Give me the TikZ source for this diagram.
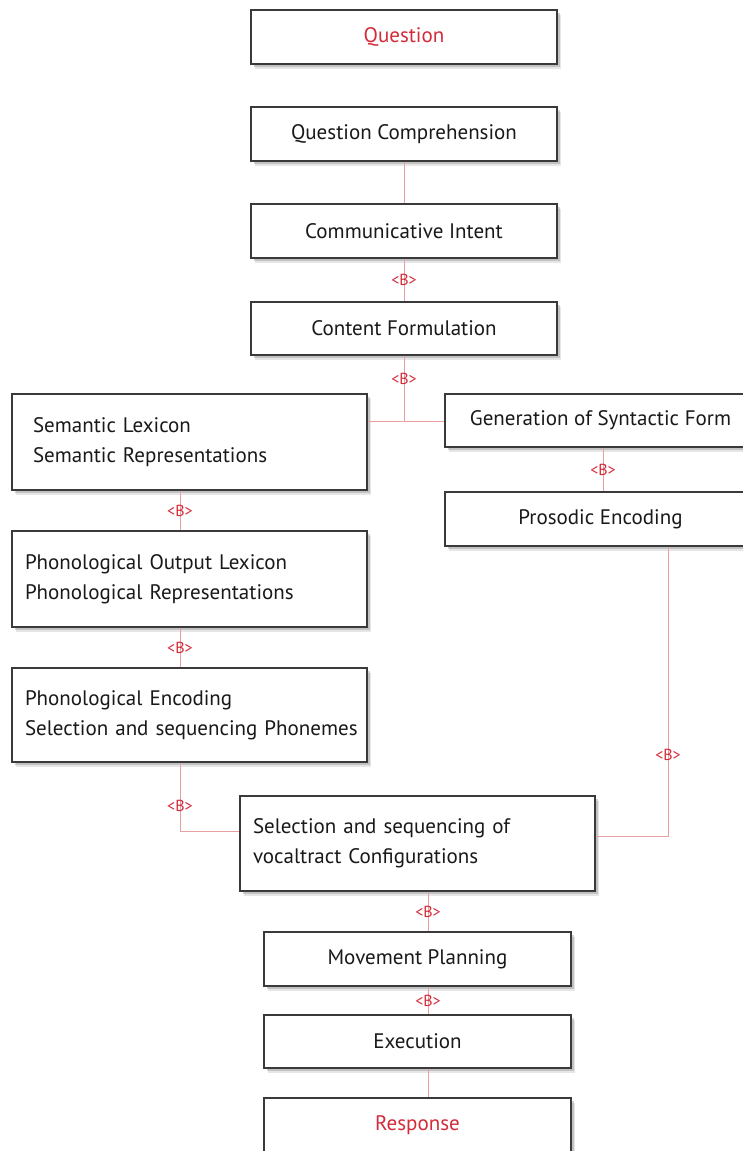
\documentclass[tikz,border=0pt]{standalone}
\usepackage{fontspec}
\setmainfont{PT Sans}
\usetikzlibrary{shadows}
\definecolor{linkred}{HTML}{E8A0A0}
\definecolor{textred}{HTML}{D42B3A}
\definecolor{boxgray}{HTML}{3A3A3A}
\tikzset{
  box/.style={draw=boxgray, line width=1.2pt, fill=white, inner sep=0pt,
    minimum height=54pt, text=black!90, font=\fontsize{21}{30}\selectfont,
    drop shadow={shadow xshift=4pt, shadow yshift=-5pt, opacity=0.2},
    drop shadow={shadow xshift=2.5pt, shadow yshift=-3pt, opacity=0.35}},
  wordbox/.style={box, text width=#1, align=left, inner xsep=13pt, minimum height=95pt},
  link/.style={draw=linkred, line width=0.8pt},
  tag/.style={text=textred, inner sep=0pt, font=\fontsize{16}{16}\selectfont}
}
\begin{document}
\begin{tikzpicture}[x=1pt,y=-1pt]
    \useasboundingbox (0,0) rectangle (742,1151);
    % top column
    \node[box, minimum width=306pt, text=textred] (quest) at (404,37) {Question};
    \node[box, minimum width=306pt] (qcomp) at (404,134) {Question Comprehension};
    \node[box, minimum width=306pt] (intent) at (404,231) {Communicative Intent};
    \node[box, minimum width=306pt, minimum height=53pt] (content) at (404,328.5) {Content Formulation};
    % left column
    \node[wordbox=313pt, inner xsep=21pt, minimum height=96pt] (semlex) at (189.5,442) {Semantic Lexicon\\Semantic Representations};
    \node[wordbox=329pt, minimum height=96pt] (phonlex) at (189.5,579) {Phonological Output Lexicon\\Phonological Representations};
    \node[wordbox=329pt, minimum height=94pt] (phonenc) at (189.5,715) {Phonological Encoding\\\mbox{Selection and sequencing Phonemes}};
    % right column
    \node[box, minimum width=311pt, minimum height=53pt] (syntax) at (600.5,420.5) {Generation of Syntactic Form};
    \node[box, minimum width=311pt] (prosody) at (600.5,519) {Prosodic Encoding};
    % bottom column
    \node[wordbox=329pt] (vocal) at (417.5,843.5) {Selection and sequencing of\\vocaltract Configurations};
    \node[box, minimum width=307pt] (plan) at (417.5,959) {Movement Planning};
    \node[box, minimum width=307pt, minimum height=53pt] (exec) at (417.5,1041.5) {Execution};
    \node[box, minimum width=307pt, text=textred] (resp) at (417.5,1125) {Response};
    % connectors
    \coordinate (split) at (404,421);
    \draw[link] (qcomp) -- (intent);
    \draw[link] (intent) -- node[tag]{<B>} (content);
    \draw[link] (content) -- node[tag, pos=0.36]{<B>} (split);
    \draw[link] (semlex.east |- split) -- (syntax.west |- split);
    \draw[link] ([xshift=2.5pt]syntax.south) -- node[tag]{<B>} ([xshift=2.5pt]prosody.north);
    \draw[link] ([xshift=-9.5pt]semlex.south) -- node[tag]{<B>} ([xshift=-9.5pt]phonlex.north);
    \draw[link] ([xshift=-9.5pt]phonlex.south) -- node[tag]{<B>} ([xshift=-9.5pt]phonenc.north);
    \draw[link] ([xshift=-9.5pt]phonenc.south) |- node[tag, pos=0.32]{<B>} ([yshift=12.5pt]vocal.west);
    \draw[link] ([xshift=67.5pt]prosody.south) |- node[tag, pos=0.36]{<B>} ([yshift=7.5pt]vocal.east);
    \draw[link] ([xshift=10.5pt]vocal.south) -- node[tag]{<B>} ([xshift=10.5pt]plan.north);
    \draw[link] ([xshift=10.5pt]plan.south) -- node[tag]{<B>} ([xshift=10.5pt]exec.north);
    \draw[link] ([xshift=10.5pt]exec.south) -- ([xshift=10.5pt]resp.north);
\end{tikzpicture}
\end{document}
